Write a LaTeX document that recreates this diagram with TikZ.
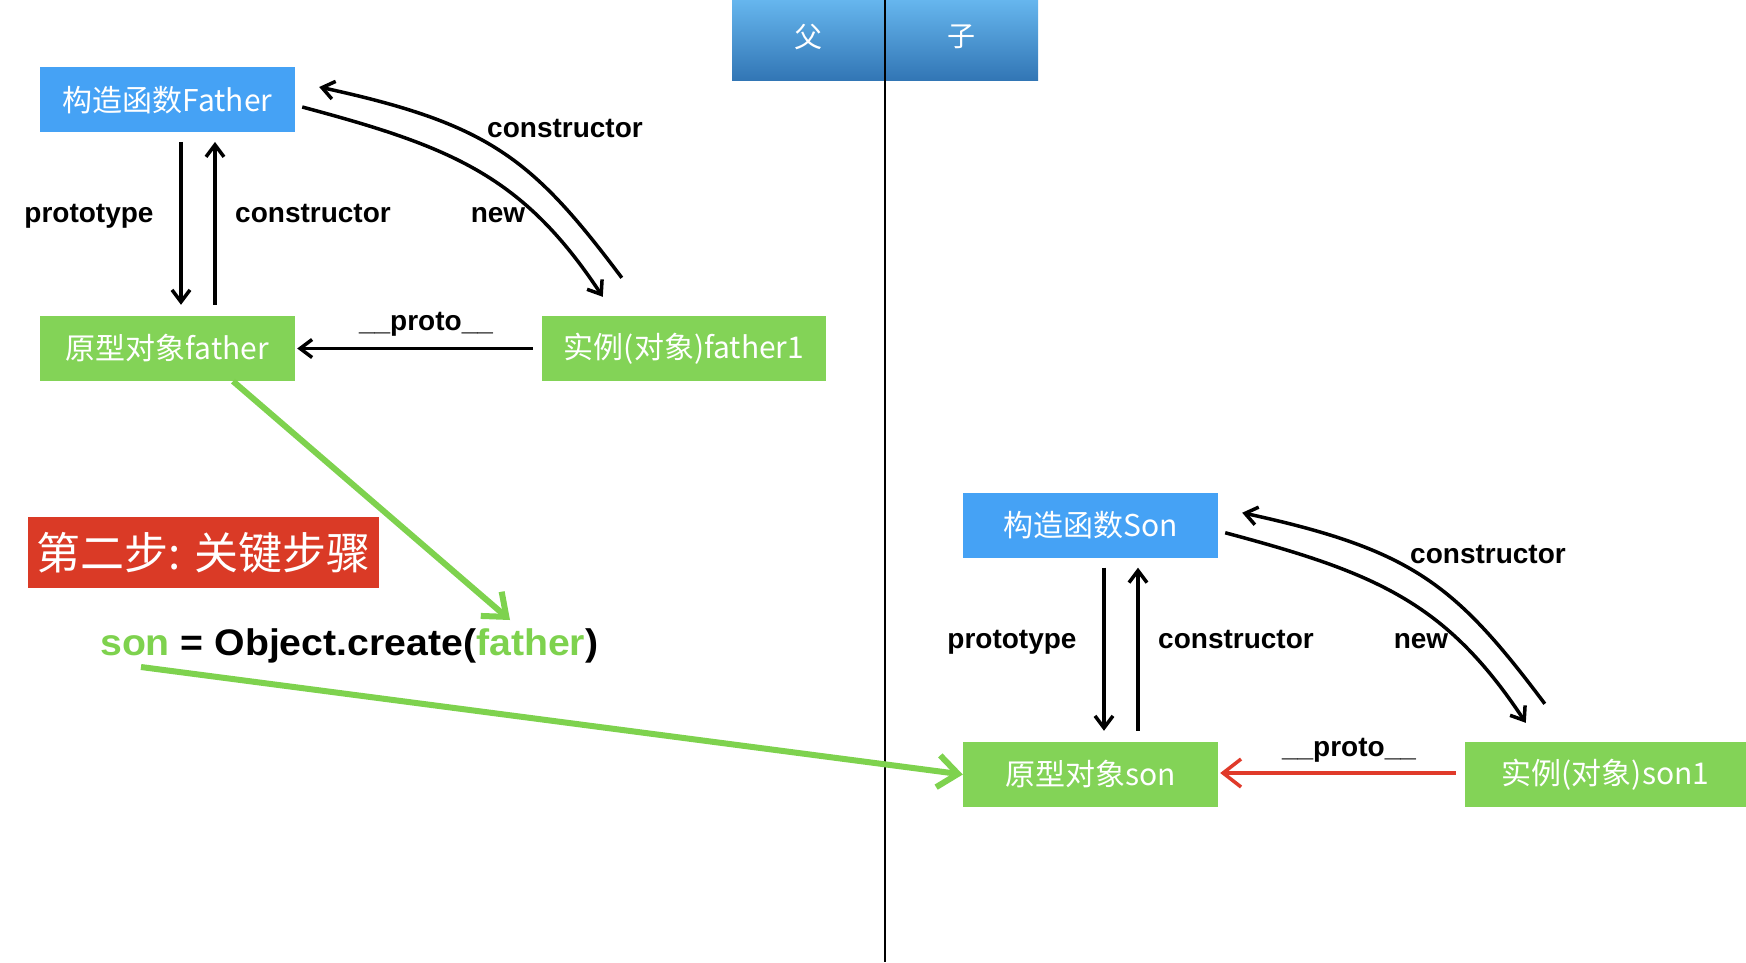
\documentclass[tikz,border=0pt]{standalone}
\usepackage{fontspec}
\setmainfont{Liberation Sans}
\newfontfamily\cjk{Noto Sans CJK SC}
\newfontfamily\codefont[FakeStretch=1.06]{Liberation Sans}
\usetikzlibrary{arrows.meta,calc}
\definecolor{boxblue}{HTML}{45A2F5}
\definecolor{boxgreen}{HTML}{83D357}
\definecolor{boxred}{HTML}{DA3A26}
\definecolor{hdtop}{HTML}{66B6EE}
\definecolor{hdbot}{HTML}{3276B5}
\definecolor{arrred}{HTML}{E03A2A}
\definecolor{codegreen}{HTML}{7ED24E}
\begin{document}
\begin{tikzpicture}[x=1pt,y=-1pt,
  objbox/.style={rectangle, inner sep=0pt, text=white, font=\cjk\fontsize{30}{30}\selectfont, minimum height=65pt},
  hdr/.style={rectangle, inner sep=0pt, minimum width=153pt, minimum height=80pt, top color=hdtop, bottom color=hdbot, text=white, font=\cjk\fontsize{28}{28}\selectfont},
  lbl/.style={font=\bfseries\fontsize{28}{28}\selectfont, anchor=base, inner sep=0pt},
  blk/.style={line width=3.5pt, -{Straight Barb[length=12pt,width=18pt]}},
  grn/.style={draw=codegreen, line width=6pt, -{Straight Barb[length=20pt,width=32pt]}},
  redarr/.style={draw=arrred, line width=3.5pt, -{Straight Barb[length=18pt,width=28pt]}}
]
\useasboundingbox (0,0) rectangle (1746,962);
\fill[white] (0,0) rectangle (1746,962);

% header
\node[hdr] (hfu) at (808.5,40) {\raisebox{8pt}{父}};
\node[hdr] (hzi) at (961.5,40) {\raisebox{8pt}{子}};
\coordinate (vtop) at (885,0);
\coordinate (vbot) at (885,962);
\draw[line width=2pt] (vtop) -- (vbot);

% ---------- Father cluster ----------
\node[objbox, fill=boxblue, minimum width=255pt] (F) at (167.5,99.75) {构造函数Father};
\node[objbox, fill=boxgreen, minimum width=255pt] (P) at (167.5,348.5) {原型对象father};
\node[objbox, fill=boxgreen, minimum width=284pt] (I) at (684,348.5) {实例(对象)father1};

\draw[blk] ([shift={(13.5,9.5)}]F.south) -- ([shift={(13.5,-11)}]P.north);
\draw[blk] ([shift={(47.5,-11)}]P.north) -- ([shift={(47.5,9.5)}]F.south);
\draw[blk] ([shift={(-9,0)}]I.west) -- ([shift={(2,0)}]P.east);
\draw[blk] ([shift={(7,7.25)}]F.east) .. controls +(150,40) and +(-80,-121) .. ([shift={(61,-19)}]I.north west);
\draw[blk] ([shift={(80,-38)}]I.north west) .. controls +(-90,-120) and +(170,37) .. ([shift={(24,-12.75)}]F.east);

\node[lbl] (lp1) at (89,222.7) {prototype};
\node[lbl] (lc1) at (313,222.7) {constructor};
\node[lbl] (ln1) at (498,222.7) {new};
\node[lbl] (lcu1) at (565,137) {constructor};
\node[lbl] (lpr1) at (426,330) {\_\_proto\_\_};

% ---------- Son cluster ----------
\node[objbox, fill=boxblue, minimum width=255pt] (S) at (1090.5,525.5) {构造函数Son};
\node[objbox, fill=boxgreen, minimum width=255pt] (PS) at (1090.5,774.5) {原型对象son};
\node[objbox, fill=boxgreen, minimum width=281pt] (IS) at (1605.5,774.5) {实例(对象)son1};

\draw[blk] ([shift={(13.5,9.5)}]S.south) -- ([shift={(13.5,-11)}]PS.north);
\draw[blk] ([shift={(47.5,-11)}]PS.north) -- ([shift={(47.5,9.5)}]S.south);
\draw[redarr] ([shift={(-9,-1.5)}]IS.west) -- ([shift={(2,-1.5)}]PS.east);
\draw[blk] ([shift={(7,7.25)}]S.east) .. controls +(150,40) and +(-80,-121) .. ([shift={(61,-19)}]IS.north west);
\draw[blk] ([shift={(80,-38)}]IS.north west) .. controls +(-90,-120) and +(170,37) .. ([shift={(24,-12.75)}]S.east);

\node[lbl] (lp2) at (1012,648.7) {prototype};
\node[lbl] (lc2) at (1236,648.7) {constructor};
\node[lbl] (ln2) at (1421,648.7) {new};
\node[lbl] (lcu2) at (1488,563) {constructor};
\node[lbl] (lpr2) at (1349,756) {\_\_proto\_\_};

% ---------- step label and code ----------
\node[rectangle, fill=boxred, inner sep=0pt, minimum width=351pt, minimum height=71pt, text=white, font=\cjk\fontsize{44}{44}\selectfont] (step) at (203.5,552.5) {第二步: 关键步骤};
\node[anchor=base west, inner sep=0pt, font=\codefont\bfseries\fontsize{37}{37}\selectfont] (code) at (100,655) {\textcolor{codegreen}{son} = Object.create(\textcolor{codegreen}{father})};

\coordinate (tip1) at (510,620);
\coordinate (s2) at (141,667);
\draw[grn] ([shift={(65.5,0)}]P.south) -- (tip1);
\draw[grn] (s2) -- (PS.west);
\end{tikzpicture}
\end{document}
